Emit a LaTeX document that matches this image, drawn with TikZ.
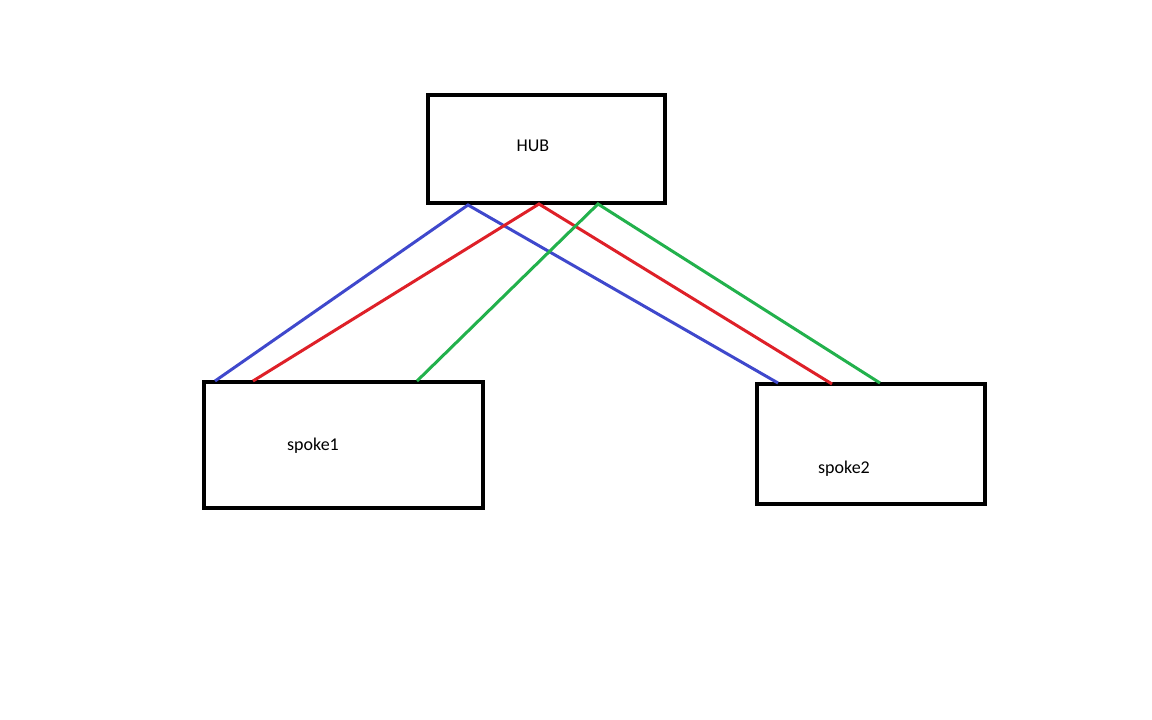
\documentclass[tikz,border=0pt]{standalone}
\usepackage{fontspec}
\setmainfont{Carlito}
\begin{document}
\begin{tikzpicture}[x=1pt,y=-1pt,
  box/.style={draw=black,line width=4pt,inner sep=0pt},
  lbl/.style={font=\fontsize{18}{20}\selectfont},
  wire/.style={line width=3pt}]
\useasboundingbox (0,0) rectangle (1152,720);
\definecolor{cblue}{RGB}{63,72,204}
\definecolor{cred}{RGB}{222,32,40}
\definecolor{cgreen}{RGB}{34,177,76}
\node[box,minimum width=237pt,minimum height=108pt] (hub) at (546.5,149) {};
\node[box,minimum width=279pt,minimum height=126pt] (s1) at (343.5,445) {};
\node[box,minimum width=228pt,minimum height=120pt] (s2) at (871,444) {};
\node[lbl] (hubt) at (533,146) {HUB};
\node[lbl] (s1t) at (313,446) {spoke1};
\node[lbl] (s2t) at (844,469) {spoke2};
\coordinate (hb) at (468,205);
\coordinate (hr) at (539,204);
\coordinate (hg) at (598,204);
\coordinate (ab) at (215,381);
\coordinate (ar) at (253,381);
\coordinate (ag) at (417,381);
\coordinate (bb) at (778,383);
\coordinate (br) at (832,384);
\coordinate (bg) at (880,383);
\draw[wire,cblue] (ab) -- (hb) -- (bb);
\draw[wire,cred] (ar) -- (hr) -- (br);
\draw[wire,cgreen] (ag) -- (hg) -- (bg);
\end{tikzpicture}
\end{document}
